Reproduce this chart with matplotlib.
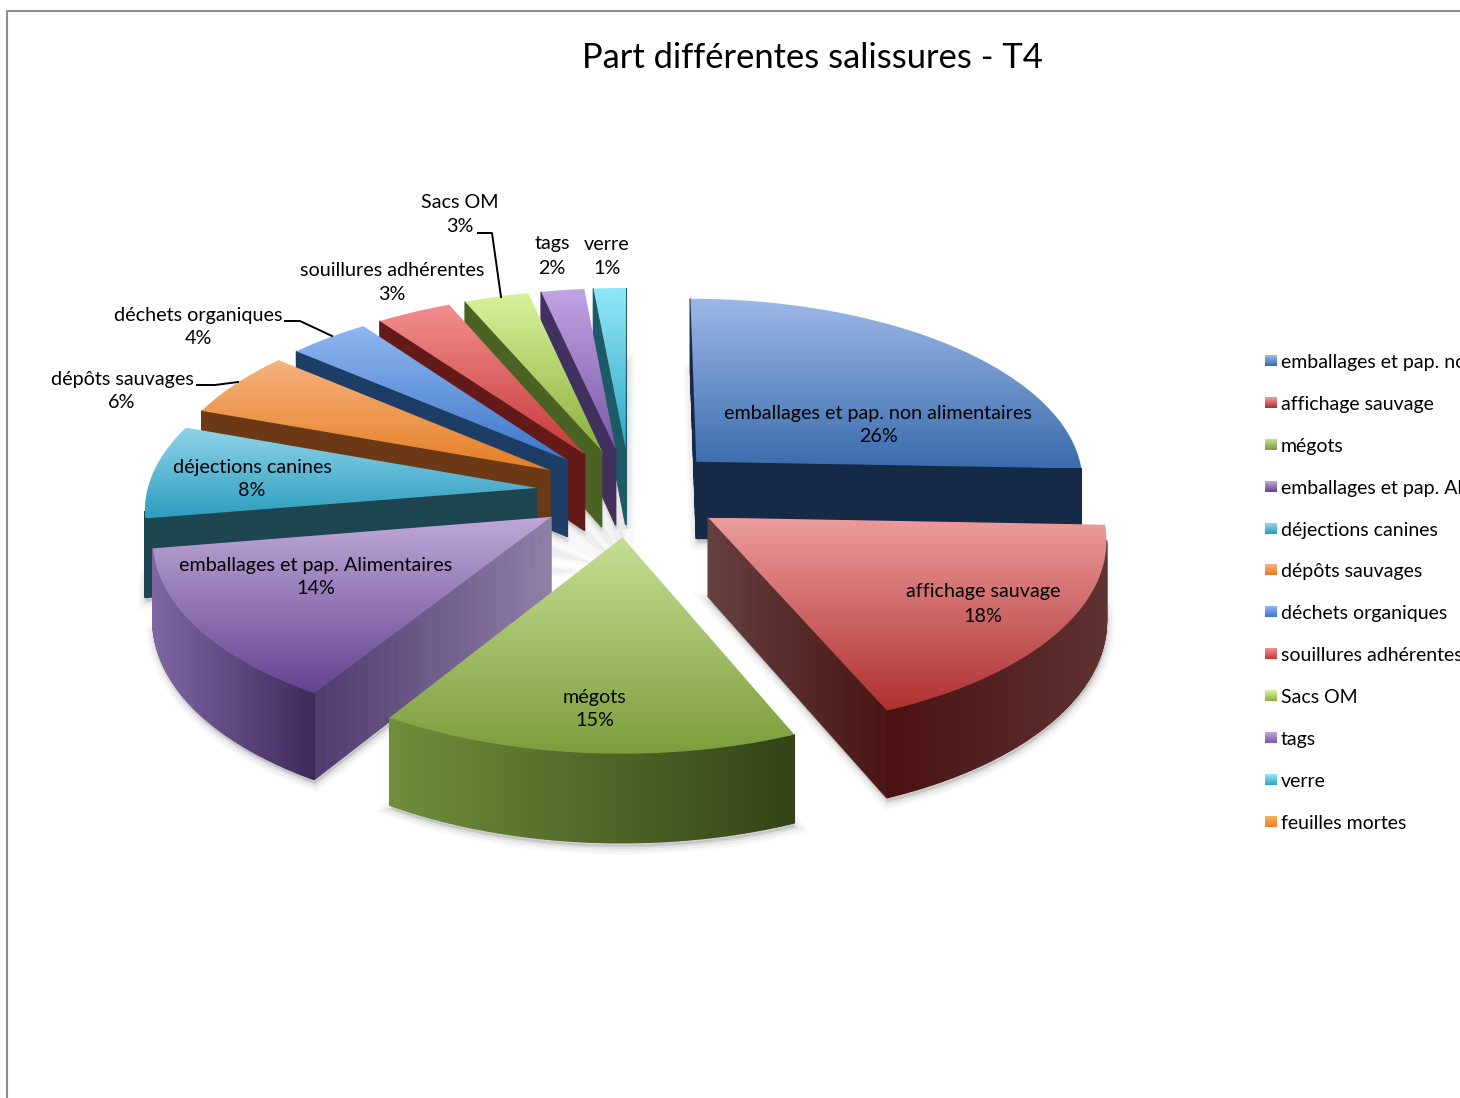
import numpy as np
import matplotlib
matplotlib.use('Agg')
import matplotlib.pyplot as plt
from matplotlib.colors import to_rgb
from matplotlib.patches import Polygon

plt.rcParams['font.family'] = ['Lato', 'DejaVu Sans']

# data
categories = ['emballages et pap. non alimentaires', 'affichage sauvage', 'mégots',
              'emballages et pap. Alimentaires', 'déjections canines', 'dépôts sauvages',
              'déchets organiques', 'souillures adhérentes', 'Sacs OM', 'tags', 'verre',
              'feuilles mortes']
# printed percentages, and the shares
percents = [26, 18, 15, 14, 8, 6, 4, 3, 3, 2, 1, 0]
shares = [25.6, 18.0, 15.3, 13.5, 8.1, 5.7, 3.8, 3.5, 3.0, 2.0, 1.5, 0]

# top face light / dark, rim left / right, flat wall
top_light = ['#9db8e6', '#ec9c9c', '#c6de94', '#bfa9d8', '#90d4e8', '#f5b27e', '#90b6f0', '#f28e8e', '#d8f29c', '#c0a4e2', '#92e6f8', '#f8b060']
top_dark = ['#3a6cad', '#b03030', '#7c9e3c', '#654490', '#2d9dbf', '#e57f25', '#3d78c8', '#c63a3a', '#8db03c', '#7c5aa8', '#30a8c4', '#f08020']
rim_left = ['#142a46', '#4a1210', '#6f8f3c', '#7f66a4', '#1d4650', '#6b3a14', '#1c3d66', '#651a1a', '#4a6323', '#42305f', '#1c5a66', '#804010']
rim_right = ['#142a46', '#5f3232', '#334316', '#3f2a5c', '#1d4650', '#6b3a14', '#1c3d66', '#651a1a', '#4a6323', '#42305f', '#1c5a66', '#804010']
wall_near = ['#142a46', '#4a1512', '#334316', '#4f3a6e', '#1d4650', '#6b3a14', '#1c3d66', '#651a1a', '#4a6323', '#42305f', '#1c5a66', '#804010']
wall_far = ['#142a46', '#64403f', '#334316', '#8f7fa6', '#1d4650', '#6b3a14', '#1c3d66', '#651a1a', '#4a6323', '#42305f', '#1c5a66', '#804010']

# label centres on the page
label_pos = [(878, 425), (983, 604), (595, 709), (316, 577), (252, 479), (122, 391),
             (198, 327), (392, 283), (460, 214), (552, 256), (607, 256)]
leaders = [[(478, 233), (492, 233), (501, 297)],
           [(285, 321), (300, 321), (332, 336)],
           [(197, 385), (215, 385), (238, 382)]]

# pie projection
cx, cy = 630, 492
rx, ry, depth = 390, 185, 78
persp = 0.10
explode = 0.24


def project(u, v, z=0.0):
    w = 1 / (1 - persp * np.asarray(v, dtype=float))
    return cx + rx * np.asarray(u) * w, cy + ry * np.asarray(v) * w + depth * z * w


def mix(c0, c1, t):
    a, b = np.array(to_rgb(c0)), np.array(to_rgb(c1))
    return a + (b - a) * t


fig = plt.figure(figsize=(14.6, 10.98), dpi=100)
ax = fig.add_axes([0, 0, 1, 1])
ax.set_xlim(0, 1460)
ax.set_ylim(1098, 0)
ax.axis('off')

# page frame
ax.plot([7, 7, 1460], [1098, 10.5, 10.5], color='#8c8c8c', lw=1.5, zorder=1)

total = sum(shares)
edges = np.cumsum([0] + shares) / total * 2 * np.pi
slices = [i for i in range(len(shares)) if shares[i] > 0]
mids = (edges[:-1] + edges[1:]) / 2
order = sorted(slices, key=lambda i: -np.cos(mids[i]))

z = 10
for i in order:
    a0, a1 = edges[i], edges[i + 1]
    ou, ov = explode * np.sin(mids[i]), -explode * np.cos(mids[i])
    ang = np.linspace(a0, a1, max(6, int(shares[i] * 4)))
    uu = ou + np.sin(ang)
    vv = ov - np.cos(ang)
    tx, ty = project(np.r_[ou, uu], np.r_[ov, vv], 0)
    bx, by = project(np.r_[ou, uu], np.r_[ov, vv], 1)

    # soft shadow under the slice
    for lw, al in ((11, 0.04), (7, 0.06), (3, 0.09)):
        ax.add_patch(Polygon(np.c_[bx + 1, by + 4], closed=True, fc='#505050', ec='#505050',
                             lw=lw, alpha=al, zorder=z))
    z += 1

    cam = (0.0, 1 / persp)
    # radial walls
    for a, sign in ((a0, -1), (a1, 1)):
        n = (sign * np.cos(a), sign * np.sin(a))
        if n[0] * (cam[0] - ou) + n[1] * (cam[1] - ov) <= 0:
            continue
        ts = np.linspace(0, 1, 25)
        wu = ou + np.sin(a) * ts
        wv = ov - np.cos(a) * ts
        xt, yt = project(wu, wv, 0)
        xb, yb = project(wu, wv, 1)
        for k in range(len(ts) - 1):
            col = mix(wall_near[i], wall_far[i], 1 - ts[k])
            ax.fill([xt[k], xt[k + 1], xb[k + 1], xb[k]], [yt[k], yt[k + 1], yb[k + 1], yb[k]],
                    fc=col, ec=col, lw=1, zorder=z)
    z += 1

    # rim, shaded left to right
    xt, yt = project(uu, vv, 0)
    xmin, xmax = xt.min(), xt.max()
    fine = np.linspace(a0, a1, max(40, int(shares[i] * 10)))
    fu, fv = ou + np.sin(fine), ov - np.cos(fine)
    xt, yt = project(fu, fv, 0)
    xb, yb = project(fu, fv, 1)
    for k in range(len(fine) - 1):
        am = (fine[k] + fine[k + 1]) / 2
        n = (np.sin(am), -np.cos(am))
        if n[0] * (cam[0] - fu[k]) + n[1] * (cam[1] - fv[k]) <= 0:
            continue
        col = mix(rim_left[i], rim_right[i], (xt[k] - xmin) / max(xmax - xmin, 1))
        ax.fill([xt[k], xt[k + 1], xb[k + 1], xb[k]], [yt[k], yt[k + 1], yb[k + 1], yb[k]],
                fc=col, ec=col, lw=1, zorder=z)
    z += 1

    # top face with a vertical gradient
    grad = np.array([mix(top_light[i], top_dark[i], t) for t in np.linspace(0, 1, 128)])[:, None, :]
    im = ax.imshow(grad, extent=(tx.min(), tx.max(), ty.max(), ty.min()), origin='upper',
                   aspect='auto', zorder=z, interpolation='bilinear')
    tx, ty = project(np.r_[ou, uu], np.r_[ov, vv], 0)
    im.set_extent((tx.min(), tx.max(), ty.max(), ty.min()))
    clip = Polygon(np.c_[tx, ty], closed=True, transform=ax.transData, fc='none', ec='none')
    ax.add_patch(clip)
    im.set_clip_path(clip)
    z += 1

ax.set_xlim(0, 1460)
ax.set_ylim(1098, 0)

# data labels
for i, (lx, ly) in enumerate(label_pos):
    ax.text(lx, ly, f'{categories[i]}\n{percents[i]}%', ha='center', va='center', fontsize=14.2,
            color='black', linespacing=1.5, zorder=500)
for line in leaders:
    ax.plot([p[0] for p in line], [p[1] for p in line], color='black', lw=1.4, zorder=500)

# title
ax.text(812, 58, 'Part différentes salissures - T4', ha='center', va='center', fontsize=24.8,
        color='black', zorder=500)

# legend, cut by the page edge as in the source
for i, name in enumerate(categories):
    ly = 361 + 41.9 * i
    grad = np.array([mix(top_light[i], top_dark[i], t) for t in np.linspace(0, 1, 16)])[:, None, :]
    ax.imshow(grad, extent=(1265, 1277, ly + 5, ly - 6), origin='upper', aspect='auto', zorder=500)
    ax.text(1281, ly + 1.5, name, ha='left', va='center', fontsize=14, color='black', zorder=500)

ax.set_xlim(0, 1460)
ax.set_ylim(1098, 0)
fig.savefig('out.png', dpi=100)
